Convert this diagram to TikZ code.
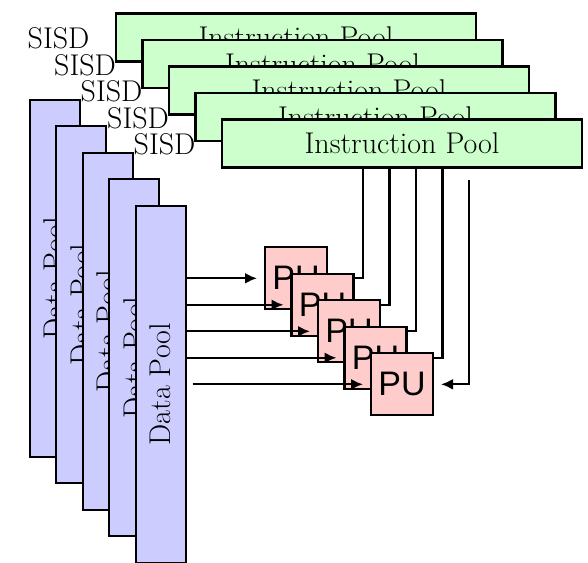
\documentclass[tikz,border=0pt]{standalone}
\usepackage{fontspec}
\usepackage{graphicx}
\newfontfamily\pufont{Liberation Sans}
\usetikzlibrary{arrows.meta,calc}
\definecolor{instrgreen}{RGB}{204,255,204}
\definecolor{datablue}{RGB}{204,204,255}
\definecolor{pupink}{RGB}{255,204,204}
\begin{document}
\begin{tikzpicture}[x=1pt,y=-1pt,line width=2.2pt,
  bigtext/.style={font=\fontsize{30}{36}\selectfont},
  instrpool/.style={draw=black,fill=instrgreen,minimum width=360pt,minimum height=48pt,
    inner sep=0pt,outer sep=0pt,bigtext},
  datapool/.style={draw=black,fill=datablue,minimum width=50pt,minimum height=357pt,
    inner sep=0pt,outer sep=0pt,bigtext},
  pubox/.style={draw=black,fill=pupink,minimum width=62pt,minimum height=62pt,
    inner sep=0pt,outer sep=0pt,font=\pufont\fontsize{34}{40}\selectfont},
  flow/.style={-{Latex[length=12pt,width=11pt]},line width=2.2pt},
  tag/.style={anchor=east,inner sep=0pt,bigtext}]
\useasboundingbox (0,0) rectangle (588,562);
% five stacked SISD machines, drawn from the back layer to the front one
\foreach \k in {0,...,4}{
  \pgfmathsetmacro{\o}{26.5*\k}
  \node[datapool] (dp\k) at (54.6+\o,278.3+\o) {\rotatebox{90}{Data Pool}};
  \node[instrpool] (ip\k) at (296+\o,37.5+\o) {Instruction Pool};
  \node[pubox] (pu\k) at (296+\o,278.3+\o) {PU};
  \draw[flow] ([xshift=7pt]dp\k.east) -- ([xshift=-8pt]pu\k.west);
  \draw[flow] ($(ip\k.south west)+(247,12)$) |- ([xshift=8pt]pu\k.east);
  \node[tag] (sisd\k) at ($(ip\k.south west)+(-25.5,-23)$) {SISD};
}
\end{tikzpicture}
\end{document}
